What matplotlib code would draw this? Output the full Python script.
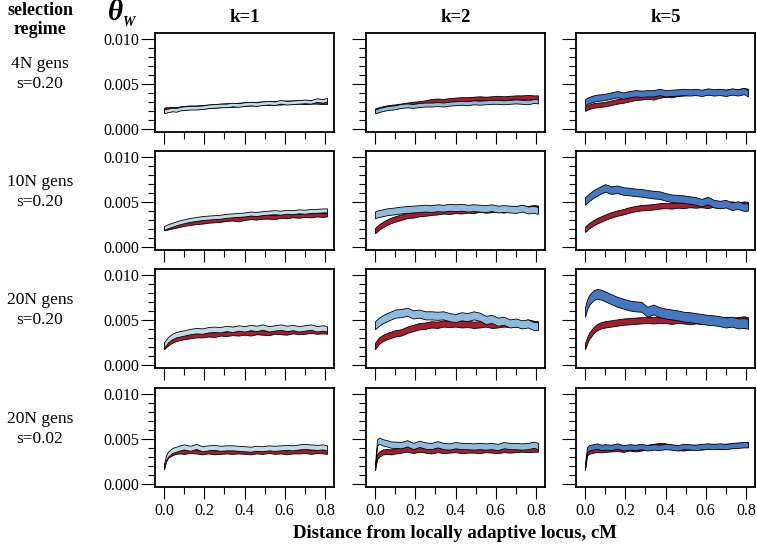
import matplotlib
matplotlib.use("Agg")
import numpy as np
from matplotlib import pyplot as plt
from matplotlib.ticker import MultipleLocator

plt.rcParams['font.family'] = ['Liberation Serif', 'DejaVu Serif']

# distance from locus (cM)
x_cm = [0.00, 0.01, 0.02, 0.04, 0.06, 0.08, 0.10, 0.13, 0.16, 0.19, 0.22,
        0.25, 0.28, 0.31, 0.34, 0.37, 0.40, 0.43, 0.46, 0.49, 0.52, 0.55,
        0.58, 0.61, 0.64, 0.67, 0.70, 0.73, 0.76, 0.79, 0.81]

row_labels = ["4N gens\ns=0.20", "10N gens\ns=0.20", "20N gens\ns=0.20", "20N gens\ns=0.02"]
col_labels = ["k=1", "k=2", "k=5"]

# band centres, theta_W x 1e-3
red_4n_k1 = [2.15, 2.2, 2.2, 2.25, 2.2, 2.3, 2.35, 2.4, 2.4, 2.45, 2.5, 2.55, 2.6, 2.65, 2.65, 2.7,
             2.75, 2.8, 2.8, 2.85, 2.85, 2.9, 2.9, 2.95, 2.95, 3.0, 2.95, 3.0, 3.0, 2.95, 2.95]
blue_4n_k1 = [1.95, 2.0, 2.05, 2.15, 2.1, 2.25, 2.3, 2.35, 2.35, 2.4, 2.5, 2.55, 2.6, 2.6, 2.7, 2.65,
              2.75, 2.8, 2.75, 2.85, 2.9, 2.85, 3.0, 2.9, 2.95, 3.0, 3.05, 3.0, 3.2, 3.1, 3.25]
red_4n_k2 = [2.05, 2.1, 2.2, 2.3, 2.4, 2.45, 2.5, 2.6, 2.7, 2.8, 2.85, 2.95, 3.1, 3.15, 3.1, 3.2,
             3.25, 3.3, 3.3, 3.35, 3.4, 3.35, 3.4, 3.45, 3.4, 3.45, 3.5, 3.5, 3.55, 3.5, 3.5]
blue_4n_k2 = [1.95, 2.0, 2.1, 2.2, 2.3, 2.35, 2.4, 2.55, 2.6, 2.55, 2.65, 2.7, 2.7, 2.75, 2.7, 2.8,
              2.85, 2.9, 2.85, 2.95, 2.9, 2.95, 3.0, 3.0, 2.95, 3.0, 3.05, 3.0, 2.95, 3.1, 3.05]
red_4n_k5 = [2.25, 2.35, 2.45, 2.6, 2.65, 2.7, 2.75, 2.9, 3.05, 3.15, 3.3, 3.45, 3.5, 3.6, 3.5, 3.7,
             3.8, 3.75, 3.9, 3.95, 4.0, 4.05, 4.0, 4.1, 4.05, 4.15, 4.1, 4.2, 4.15, 4.3, 4.2]
blue_4n_k5 = [2.95, 3.1, 3.2, 3.35, 3.45, 3.5, 3.55, 3.7, 3.85, 3.7, 3.85, 3.95, 3.9, 3.95, 3.95, 4.1,
              3.95, 4.0, 4.05, 4.1, 4.05, 4.1, 4.0, 4.15, 4.05, 4.1, 4.0, 4.15, 4.05, 4.2, 3.95]

red_10n_k1 = [2.05, 2.1, 2.15, 2.25, 2.35, 2.45, 2.55, 2.65, 2.75, 2.8, 2.9, 2.95, 3.0, 3.1, 3.15, 3.05,
              3.2, 3.3, 3.25, 3.35, 3.35, 3.3, 3.45, 3.4, 3.5, 3.45, 3.55, 3.5, 3.6, 3.55, 3.6]
blue_10n_k1 = [2.1, 2.2, 2.3, 2.45, 2.6, 2.75, 2.85, 3.0, 3.1, 3.2, 3.25, 3.3, 3.35, 3.45, 3.5, 3.55,
               3.6, 3.7, 3.65, 3.75, 3.8, 3.85, 3.8, 3.9, 3.85, 3.95, 3.9, 4.0, 4.0, 4.05, 4.05]
red_10n_k2 = [1.8, 2.0, 2.2, 2.5, 2.75, 2.95, 3.1, 3.3, 3.5, 3.55, 3.7, 3.75, 3.85, 3.9, 4.0, 3.95,
              4.05, 4.0, 4.1, 4.05, 4.2, 4.1, 4.15, 4.2, 4.1, 4.25, 4.2, 4.3, 4.25, 4.35, 4.3]
blue_10n_k2 = [3.55, 3.65, 3.7, 3.8, 3.9, 3.95, 4.0, 4.1, 4.15, 4.2, 4.25, 4.3, 4.25, 4.35, 4.3, 4.4,
               4.35, 4.4, 4.3, 4.35, 4.3, 4.25, 4.35, 4.2, 4.25, 4.2, 4.15, 4.3, 4.1, 4.15, 4.05]
red_10n_k5 = [1.95, 2.15, 2.35, 2.65, 2.9, 3.1, 3.3, 3.55, 3.75, 3.9, 4.1, 4.25, 4.35, 4.4, 4.45, 4.55,
              4.6, 4.55, 4.65, 4.6, 4.7, 4.65, 4.7, 4.6, 4.75, 4.65, 4.7, 4.75, 4.65, 4.75, 4.7]
blue_10n_k5 = [5.1, 5.3, 5.5, 5.85, 6.1, 6.35, 6.55, 6.3, 6.4, 6.2, 6.15, 6.05, 6.0, 5.9, 5.8, 5.75,
               5.55, 5.4, 5.35, 5.3, 5.2, 5.1, 4.9, 5.15, 4.8, 4.7, 4.8, 4.5, 4.65, 4.4, 4.45]

red_20n_k1 = [2.0, 2.2, 2.4, 2.7, 2.9, 3.0, 3.1, 3.2, 3.3, 3.3, 3.4, 3.35, 3.5, 3.45, 3.55, 3.5,
              3.6, 3.5, 3.65, 3.6, 3.55, 3.7, 3.65, 3.6, 3.75, 3.65, 3.7, 3.8, 3.7, 3.75, 3.7]
blue_20n_k1 = [2.2, 2.5, 2.8, 3.15, 3.35, 3.45, 3.55, 3.7, 3.8, 3.75, 3.9, 3.95, 3.9, 4.05, 3.95, 4.1,
               4.0, 4.15, 4.05, 4.2, 4.0, 4.1, 4.2, 4.05, 4.15, 4.0, 4.1, 4.2, 4.0, 4.1, 4.0]
red_20n_k2 = [2.1, 2.4, 2.7, 3.0, 3.2, 3.35, 3.5, 3.6, 3.9, 4.1, 4.3, 4.35, 4.5, 4.45, 4.6, 4.55,
              4.6, 4.5, 4.55, 4.45, 4.5, 4.6, 4.45, 4.5, 4.6, 4.55, 4.6, 4.5, 4.7, 4.55, 4.5]
blue_20n_k2 = [4.4, 4.6, 4.8, 5.1, 5.3, 5.5, 5.7, 5.75, 5.9, 5.6, 5.7, 5.5, 5.5, 5.45, 5.5, 5.3,
               5.2, 5.4, 5.3, 5.5, 5.35, 5.0, 5.1, 4.8, 4.9, 4.6, 4.7, 4.5, 4.6, 4.3, 4.3]
red_20n_k5 = [2.1, 2.7, 3.2, 3.8, 4.2, 4.4, 4.5, 4.6, 4.7, 4.8, 4.85, 4.9, 4.95, 5.0, 4.95, 5.0,
              5.0, 4.9, 5.0, 4.95, 4.85, 4.95, 4.9, 4.85, 4.95, 4.9, 5.0, 4.9, 4.95, 5.05, 4.95]
blue_20n_k5 = [5.9, 6.7, 7.2, 7.7, 7.9, 7.8, 7.6, 7.3, 7.0, 6.8, 6.6, 6.5, 6.45, 5.9, 6.15, 5.85,
               5.7, 5.6, 5.5, 5.35, 5.3, 5.2, 5.1, 5.0, 4.95, 4.85, 4.7, 4.8, 4.6, 4.65, 4.55]

red_s02_k1 = [1.9, 2.7, 3.1, 3.4, 3.55, 3.6, 3.55, 3.65, 3.6, 3.5, 3.6, 3.5, 3.55, 3.6, 3.55, 3.6,
              3.55, 3.5, 3.6, 3.55, 3.65, 3.55, 3.6, 3.5, 3.6, 3.6, 3.65, 3.55, 3.65, 3.6, 3.55]
blue_s02_k1 = [1.9, 2.9, 3.3, 3.7, 3.85, 4.0, 4.1, 3.95, 4.15, 3.9, 4.0, 4.05, 3.95, 4.0, 4.0, 3.95,
               3.9, 3.85, 3.95, 3.9, 4.0, 3.95, 4.0, 4.05, 4.0, 4.1, 4.15, 4.1, 4.05, 4.1, 4.0]
red_s02_k2 = [1.8, 3.0, 3.3, 3.55, 3.6, 3.55, 3.65, 3.75, 3.85, 3.7, 3.85, 3.75, 3.65, 3.8, 3.7, 3.75,
              3.8, 3.7, 3.75, 3.75, 3.7, 3.8, 3.75, 3.7, 3.8, 3.75, 3.8, 3.85, 3.8, 3.85, 3.85]
blue_s02_k2 = [1.9, 4.6, 4.8, 4.6, 4.5, 4.35, 4.35, 4.3, 4.5, 4.2, 4.45, 4.25, 4.2, 4.4, 4.2, 4.15,
               4.3, 4.2, 4.2, 4.15, 4.2, 4.15, 4.2, 4.1, 4.3, 4.2, 4.2, 4.15, 4.2, 4.35, 4.2]
red_s02_k5 = [1.8, 3.4, 3.6, 3.7, 3.8, 3.75, 3.8, 3.85, 3.9, 3.8, 3.95, 3.85, 3.95, 4.1, 4.2, 4.3,
              4.25, 4.1, 4.0, 3.95, 4.05, 4.1, 4.05, 4.15, 4.2, 4.1, 4.2, 4.25, 4.3, 4.35, 4.4]
blue_s02_k5 = [2.0, 3.8, 4.0, 4.1, 4.2, 4.05, 4.1, 4.05, 4.2, 4.0, 4.1, 4.05, 4.15, 4.0, 4.1, 4.05,
               4.15, 4.1, 4.0, 4.15, 4.1, 4.05, 4.15, 4.2, 4.15, 4.2, 4.15, 4.25, 4.3, 4.35, 4.35]

# half widths of the bands (x 1e-3), per row, per column
red_hw = [[0.2, 0.22, 0.25], [0.22, 0.3, 0.3], [0.25, 0.35, 0.35], [0.22, 0.28, 0.25]]
blue_hw = [[0.2, 0.22, 0.35], [0.22, 0.38, 0.42], [0.3, 0.45, 0.55], [0.28, 0.35, 0.3]]

reds = [[red_4n_k1, red_4n_k2, red_4n_k5],
        [red_10n_k1, red_10n_k2, red_10n_k5],
        [red_20n_k1, red_20n_k2, red_20n_k5],
        [red_s02_k1, red_s02_k2, red_s02_k5]]
blues = [[blue_4n_k1, blue_4n_k2, blue_4n_k5],
         [blue_10n_k1, blue_10n_k2, blue_10n_k5],
         [blue_20n_k1, blue_20n_k2, blue_20n_k5],
         [blue_s02_k1, blue_s02_k2, blue_s02_k5]]

red_col = "#A51E30"
blue_cols = ["#BFDCE6", "#8FBCDC", "#4678C2"]

W, H = 757, 549
fig = plt.figure(figsize=(W/100., H/100.), dpi=100)

lefts = [155, 366, 576]
tops = [33, 151, 269, 388]
aw, ah = 179, 99

x = np.array(x_cm)
for r in range(4):
    for c in range(3):
        ax = fig.add_axes([lefts[c]/W, 1 - (tops[r] + ah)/H, aw/W, ah/H])
        red = np.array(reds[r][c])*1e-3
        blue = np.array(blues[r][c])*1e-3
        rh = red_hw[r][c]*1e-3
        bh = blue_hw[r][c]*1e-3
        ax.fill_between(x, red - rh, red + rh, facecolor=red_col,
                        edgecolor="black", linewidth=0.6)
        ax.fill_between(x, blue - bh, blue + bh, facecolor=blue_cols[c],
                        edgecolor="black", linewidth=0.6)
        ax.set_xlim(-0.045, 0.845)
        ax.set_ylim(-0.00035, 0.01065)
        ax.xaxis.set_major_locator(MultipleLocator(0.2))
        ax.xaxis.set_minor_locator(MultipleLocator(0.1))
        ax.yaxis.set_major_locator(MultipleLocator(0.005))
        ax.yaxis.set_minor_locator(MultipleLocator(0.001))
        ax.tick_params(which="major", length=10, width=0.8, labelsize=11.5, pad=1)
        ax.tick_params(which="minor", length=5, width=0.8)
        ax.tick_params(axis="x", which="major", length=8.5, pad=3)
        ax.tick_params(axis="x", which="minor", length=5)
        ax.set_xticks([0.0, 0.2, 0.4, 0.6, 0.8])
        ax.set_xticklabels(["0.0", "0.2", "0.4", "0.6", "0.8"])
        ax.set_yticks([0.0, 0.005, 0.010])
        ax.set_yticklabels(["0.000", "0.005", "0.010"])
        if r < 3:
            ax.tick_params(axis="x", labelbottom=False)
        if c > 0:
            ax.tick_params(axis="y", labelleft=False)
        for sp in ax.spines.values():
            sp.set_linewidth(1.3)
        if r == 0:
            fig.text((lefts[c] + aw/2)/W, 1 - 18/H, col_labels[c], ha="center",
                     va="center", fontsize=13.5, fontweight="bold")
    fig.text(40/W, 1 - (tops[r] + 41)/H, row_labels[r], ha="center", va="center",
             fontsize=12.5, linespacing=1.35)

fig.text(40/W, 1 - 20/H, "selection\nregime", ha="center", va="center",
         fontsize=13, fontweight="bold", linespacing=1.2)
fig.text(115/W, 1 - 13/H, "θ", ha="center", va="center", fontsize=21,
         fontweight="bold", fontstyle="italic")
fig.text(128/W, 1 - 23/H, "W", ha="center", va="center", fontsize=10,
         fontweight="bold", fontstyle="italic")
fig.text(455/W, 1 - 533/H, "Distance from locally adaptive locus, cM", ha="center",
         va="center", fontsize=13.5, fontweight="bold")

fig.savefig("out.png", dpi=100)
